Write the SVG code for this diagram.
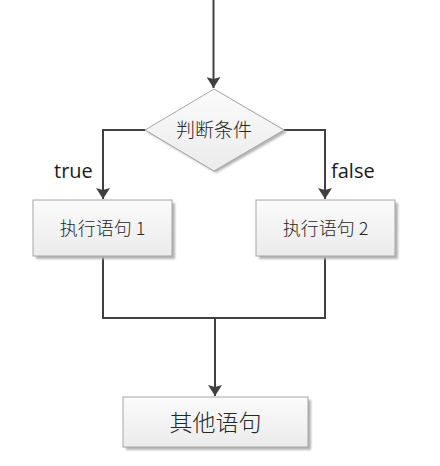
<svg xmlns="http://www.w3.org/2000/svg" width="440" height="466" viewBox="0 0 440 466">
<defs>
<linearGradient id="g" x1="0" y1="0" x2="0" y2="1">
<stop offset="0" stop-color="#fbfbfb"/>
<stop offset="1" stop-color="#ebebeb"/>
</linearGradient>
<filter id="sh" x="-10%" y="-10%" width="130%" height="140%">
<feGaussianBlur stdDeviation="0.8"/>
</filter>
<marker id="arr" markerWidth="12" markerHeight="14" refX="11" refY="7" orient="auto" markerUnits="userSpaceOnUse">
<path d="M0,0 L11,7 L0,14 L2,7 Z" fill="#404040"/>
</marker>
<style>
.box{fill:url(#g);stroke:#a6a6a6;stroke-width:1}
.shadow{fill:#b4b4b4;filter:url(#sh)}
.cn{font-family:"Noto Sans CJK SC",sans-serif;fill:#262626;text-anchor:middle;font-weight:300}
.lbl{font-family:"Open Sans","Liberation Sans",sans-serif;font-size:20px;fill:#1a1a1a}
.ln{fill:none;stroke:#404040;stroke-width:2}
</style>
</defs>
<rect width="440" height="466" fill="#ffffff"/>
<g id="connectors">
<path class="ln" d="M213.5,0 V88" marker-end="url(#arr)"/>
<path class="ln" d="M145,130 H103 V199" marker-end="url(#arr)"/>
<path class="ln" d="M284,130 H325 V199" marker-end="url(#arr)"/>
<path class="ln" d="M103,256 V318 H325 V256"/>
<path class="ln" d="M215,318 V396" marker-end="url(#arr)"/>
</g>
<g id="condition">
<polygon class="shadow" points="216,91 287,132 216,173 147,132"/>
<polygon class="box" points="214,89 284,130 214,171 145,130"/>
<text class="cn" x="214" y="137" font-size="19">判断条件</text>
</g>
<g id="stmt1">
<rect class="shadow" x="36" y="203" width="139" height="56"/>
<rect class="box" x="33" y="200" width="139" height="56"/>
<text class="cn" x="102.5" y="235" font-size="18">执行语句 1</text>
</g>
<g id="stmt2">
<rect class="shadow" x="259" y="203" width="139" height="56"/>
<rect class="box" x="256" y="200" width="139" height="56"/>
<text class="cn" x="325.5" y="235" font-size="18">执行语句 2</text>
</g>
<g id="other">
<rect class="shadow" x="126" y="400" width="185" height="50"/>
<rect class="box" x="123" y="397" width="185" height="50"/>
<text class="cn" x="215.5" y="431" font-size="23">其他语句</text>
</g>
<text class="lbl" x="54" y="178">true</text>
<text class="lbl" x="331" y="178">false</text>
</svg>
